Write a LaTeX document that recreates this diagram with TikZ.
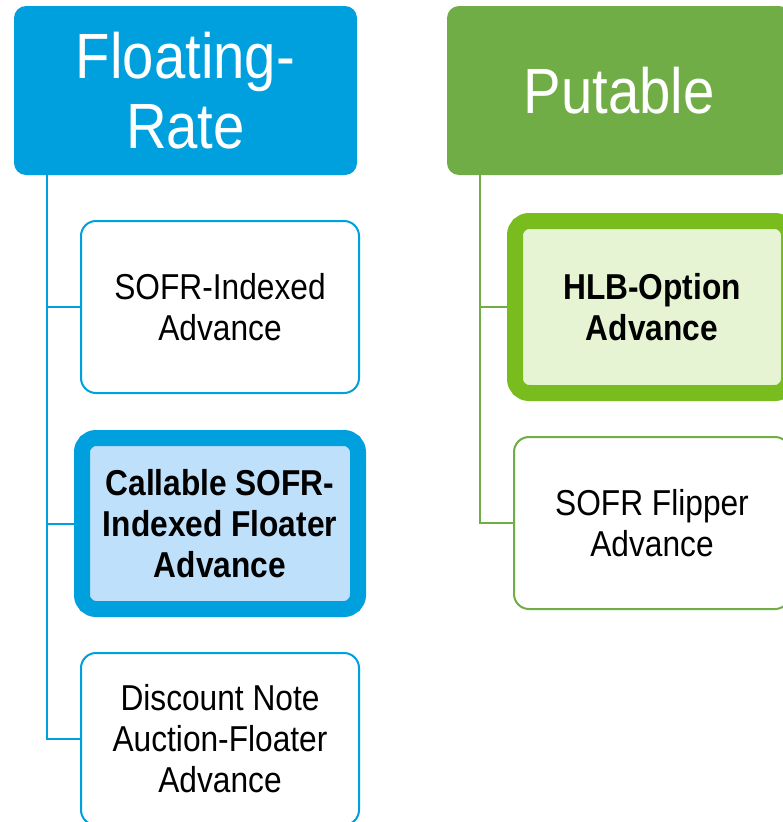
\documentclass[tikz,border=0pt]{standalone}
\usepackage{fontspec}
\setmainfont{Liberation Sans}[FakeStretch=0.88]
\definecolor{fblue}{RGB}{0,160,222}
\definecolor{fbluefill}{RGB}{190,224,250}
\definecolor{pgreen}{RGB}{112,173,71}
\definecolor{pgreenthick}{RGB}{120,188,30}
\definecolor{pgreenfill}{RGB}{230,244,212}
\tikzset{
  header/.style={rounded corners=12pt, text=white, align=center, inner sep=0pt,
    minimum width=343pt, minimum height=169pt, font=\fontsize{64}{70}\selectfont},
  plainbox/.style={rounded corners=15pt, line width=2pt, fill=white, align=center,
    inner sep=0pt, minimum width=278pt, minimum height=172pt, font=\fontsize{36}{41}\selectfont},
  boldbox/.style={rounded corners=14pt, line width=16pt, align=center,
    inner sep=0pt, minimum width=276pt, minimum height=171pt, font=\fontsize{36}{41}\selectfont\bfseries},
  bluelink/.style={draw=fblue, line width=2pt},
  greenlink/.style={draw=pgreen, line width=1.6pt}
}
\begin{document}
\begin{tikzpicture}[x=1pt,y=-1pt]
\useasboundingbox (0,0) rectangle (782,822);
% headers
\node[header, fill=fblue] (fr) at (185.5,90.5) {Floating-\\Rate};
\node[header, fill=pgreen, minimum width=344pt] (pu) at (619,90.5) {Putable};
% blue children
\node[plainbox, draw=fblue] (b1) at (220,307) {SOFR-Indexed\\Advance};
\node[boldbox, draw=fblue, fill=fbluefill] (b2) at (220,523.5) {Callable SOFR-\\Indexed Floater\\Advance};
\node[plainbox, draw=fblue] (b3) at (220,739) {Discount Note\\Auction-Floater\\Advance};
% green children
\node[boldbox, draw=pgreenthick, fill=pgreenfill, minimum width=274pt, minimum height=172pt] (g1) at (652,307) {HLB-Option\\Advance};
\node[plainbox, draw=pgreen, minimum width=276pt] (g2) at (652,523) {SOFR Flipper\\Advance};
% connectors
\draw[bluelink] ([xshift=33]fr.south west) |- (b3.west);
\draw[bluelink] ([xshift=33]fr.south west) |- (b1.west);
\draw[bluelink] ([xshift=33]fr.south west) |- (b2.west);
\draw[greenlink] ([xshift=33]pu.south west) |- (g2.west);
\draw[greenlink] ([xshift=33]pu.south west) |- (g1.west);
\end{tikzpicture}
\end{document}
